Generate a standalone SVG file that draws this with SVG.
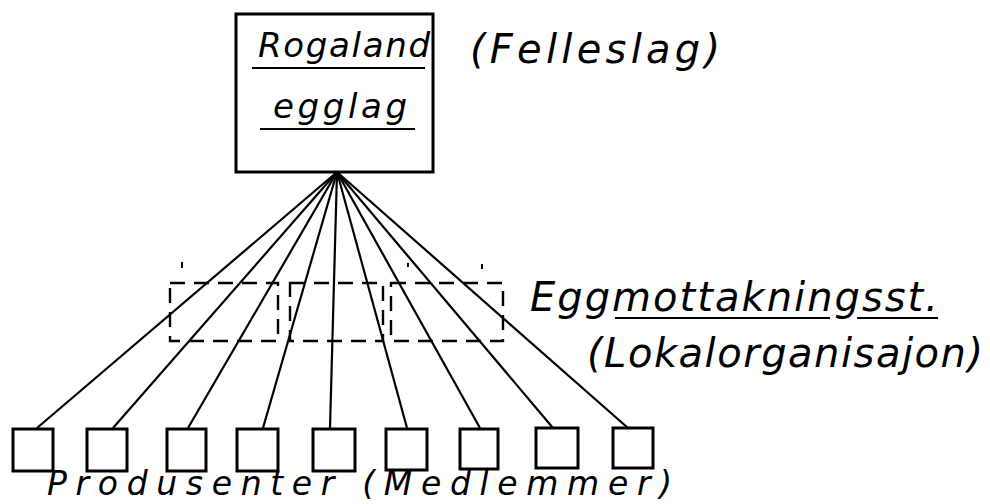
<svg xmlns="http://www.w3.org/2000/svg" width="990" height="504" viewBox="0 0 990 504">
<style>
.t{font-family:"DejaVu Sans","Liberation Sans",sans-serif;font-style:italic;fill:#000}
.box{fill:none;stroke:#000;stroke-width:3}
.dash{fill:none;stroke:#000;stroke-width:2.4;stroke-dasharray:15 9}
.ln{stroke:#000;stroke-width:2.2;fill:none}
.ul{stroke:#000;stroke-width:2}
</style>
<rect width="990" height="504" fill="#fff"/>
<g id="connectors">
<line class="ln" x1="337" y1="172" x2="37" y2="428"/>
<line class="ln" x1="337" y1="172" x2="113" y2="428"/>
<line class="ln" x1="337" y1="172" x2="188" y2="428"/>
<line class="ln" x1="337" y1="172" x2="263" y2="428"/>
<line class="ln" x1="337" y1="172" x2="330" y2="428"/>
<line class="ln" x1="337" y1="172" x2="407" y2="428"/>
<line class="ln" x1="337" y1="172" x2="480" y2="428"/>
<line class="ln" x1="337" y1="172" x2="553" y2="428"/>
<line class="ln" x1="337" y1="172" x2="628" y2="428"/>
</g>
<g id="rogaland">
<rect class="box" x="236" y="14" width="197" height="158"/>
<text class="t" x="258" y="57" font-size="34" textLength="172" lengthAdjust="spacing">Rogaland</text>
<line class="ul" x1="252" y1="68" x2="425" y2="68"/>
<text class="t" x="273" y="118" font-size="34" textLength="134" lengthAdjust="spacing">egglag</text>
<line class="ul" x1="260" y1="129" x2="415" y2="129"/>
</g>
<g id="felleslag">
<text class="t" x="470" y="63" font-size="40" textLength="250" lengthAdjust="spacing">(Felleslag)</text>
</g>
<g id="eggmottak">
<rect class="dash" x="170" y="283" width="108" height="58"/>
<rect class="dash" x="290" y="283" width="93" height="58"/>
<rect class="dash" x="391" y="283" width="112" height="58"/>
<line class="ul" x1="182" y1="262" x2="182" y2="268"/>
<line class="ul" x1="408" y1="263" x2="408" y2="267"/>
<line class="ul" x1="482" y1="264" x2="482" y2="269"/>
<text class="t" x="530" y="311" font-size="40" textLength="408" lengthAdjust="spacing">Eggmottakningsst.</text>
<line class="ul" x1="615" y1="318" x2="830" y2="318"/>
<line class="ul" x1="857" y1="318" x2="938" y2="318"/>
<text class="t" x="587" y="367" font-size="40" textLength="396" lengthAdjust="spacing">(Lokalorganisajon)</text>
</g>
<g id="produsenter">
<rect class="box" x="13" y="429" width="40" height="42"/>
<rect class="box" x="87" y="429" width="40" height="42"/>
<rect class="box" x="167" y="429" width="39" height="42"/>
<rect class="box" x="237" y="429" width="41" height="42"/>
<rect class="box" x="313" y="429" width="42" height="42"/>
<rect class="box" x="386" y="429" width="41" height="41"/>
<rect class="box" x="460" y="429" width="38" height="40"/>
<rect class="box" x="536" y="428" width="42" height="40"/>
<rect class="box" x="613" y="428" width="40" height="40"/>
<text class="t" x="47" y="495" font-size="33" textLength="625" lengthAdjust="spacing">Produsenter (Medlemmer)</text>
</g>
</svg>
